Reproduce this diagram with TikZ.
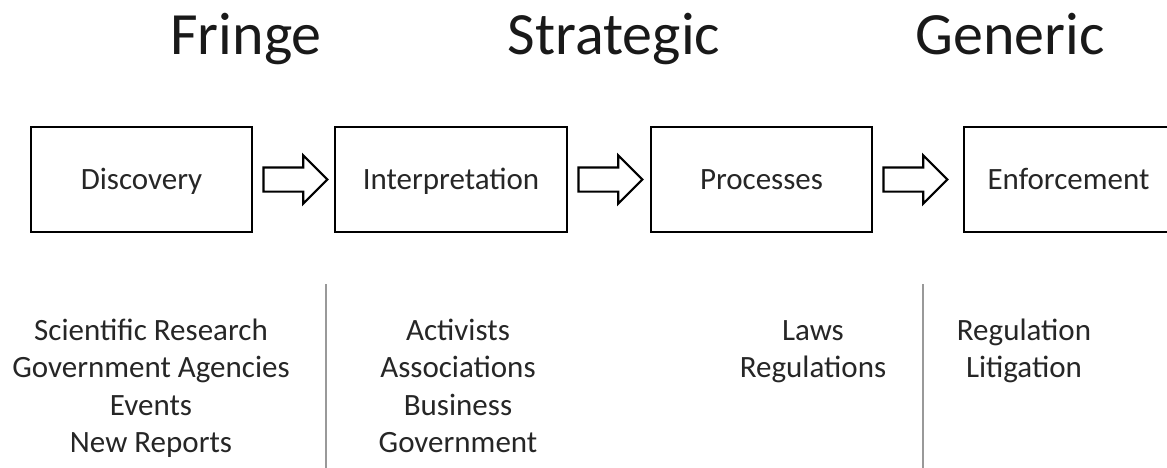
\documentclass[tikz,border=0pt]{standalone}
\usepackage{fontspec}
\setmainfont{Carlito}
\usetikzlibrary{positioning,shapes.arrows}

\tikzset{
  stage/.style={draw, line width=2.6pt, minimum width=221pt, minimum height=105pt,
    text height=26pt, text depth=7pt, font=\fontsize{31}{37.5}\selectfont, text=black!85},
  flow/.style={draw, line width=2.2pt, single arrow, single arrow head extend=12pt,
    minimum height=64pt, inner xsep=0pt, inner ysep=11pt},
  head/.style={font=\fontsize{60}{72}\selectfont, anchor=base, text=black!90},
  items/.style={font=\fontsize{31}{37.5}\selectfont, align=center, anchor=north,
    inner sep=0pt, text=black!85},
  sep/.style={draw=black!40, line width=1.3pt}
}

\begin{document}
\begin{tikzpicture}[x=1pt, y=-1pt]
    \useasboundingbox (0, 0) rectangle (1167, 468);
    \clip (0, 0) rectangle (1167, 468);
    % 标题
    \node[head] (fringe) at (246, 55) {Fringe};
    \node[head] (strat) at (614, 55) {Strategic};
    \node[head] (gen) at (1010, 55) {Generic};
    % 阶段方框
    \node[stage] (disc) at (141.5, 179.5) {Discovery};
    \node[stage, minimum width=232pt] (interp) at (451, 179.5) {Interpretation};
    \node[stage] (proc) at (761.5, 179.5) {Processes};
    \node[stage, minimum width=209pt] (enf) at (1068.5, 179.5) {Enforcement};
    % 箭头
    \node[flow, right=9pt of disc] (arrA) {};
    \node[flow, right=9pt of interp] (arrB) {};
    \node[flow, right=9pt of proc] (arrC) {};
    % 分隔线
    \draw[sep] (326, 284) -- (326, 470);
    \draw[sep] (923, 284) -- (923, 470);
    % 列表
    \node[items] (fringelist) at (151, 313.75) {\strut Scientific Research\\Government Agencies\\Events\\New Reports};
    \node[items] (stratlist) at (458, 313.75) {\strut Activists\\Associations\\Business\\Government};
    \node[items] (lawlist) at (813, 313.75) {\strut Laws\\Regulations};
    \node[items] (enflist) at (1024, 313.75) {\strut Regulation\\Litigation};
\end{tikzpicture}
\end{document}
